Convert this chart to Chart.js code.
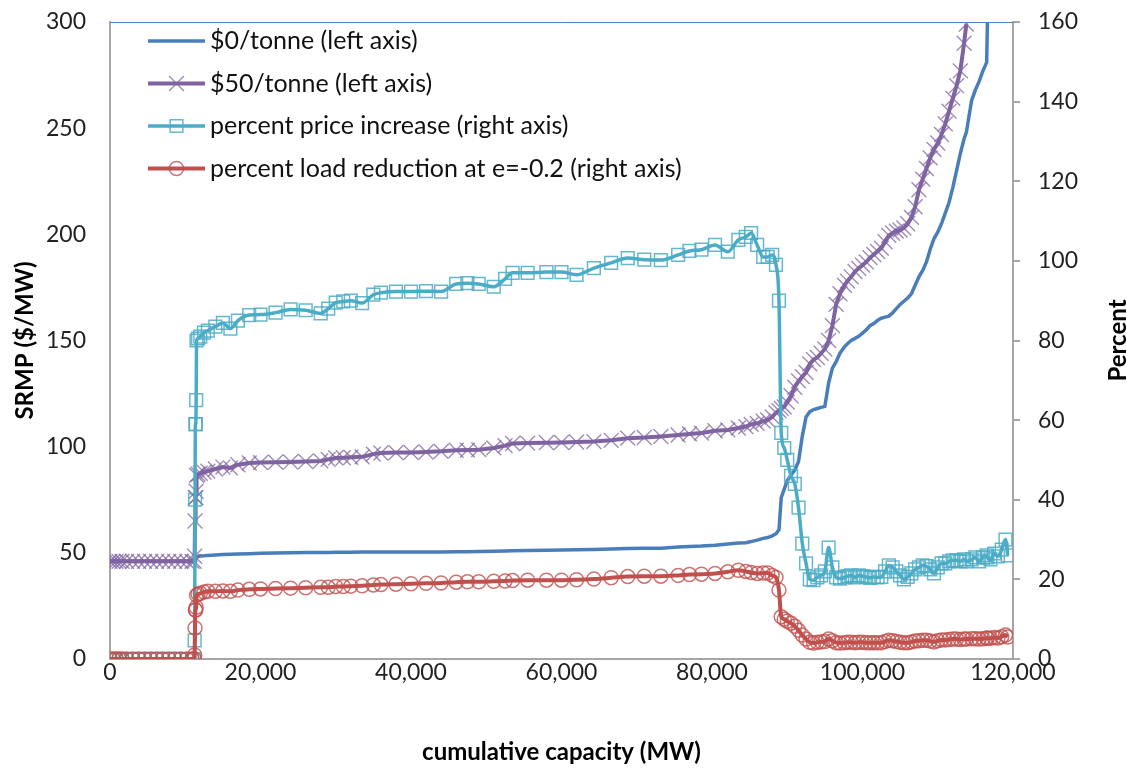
<!DOCTYPE html>
<html>
<head>
<meta charset="utf-8">
<script src="https://cdn.jsdelivr.net/npm/chart.js@4.4.0/dist/chart.umd.min.js"></script>
<style>
  body { margin: 0; background: #fff; }
  #wrap { width: 1127px; height: 768px; position: relative; }
</style>
</head>
<body>
<div id="wrap"><canvas id="srmpChart"></canvas></div>
<script>
// cumulative capacity (MW), shared by all four series
const capacityMW = [
  0, 400, 800, 1200, 1600, 2200, 3000, 3800, 4600, 5400, 6200, 7000, 7800, 8600, 9400, 10200, 10900,
  11200, 11250, 11300, 11350, 11400, 11450, 11500, 11700, 12000, 12500, 13000, 14000, 15000, 16000,
  17000, 18500, 20000, 22000, 24000, 26000, 28000, 29000, 30000, 31000, 32000, 33500, 35000, 36000,
  38000, 40000, 42000, 44000, 46000, 47500, 49000, 51000, 52500, 53500, 55500, 58000, 60000, 62000,
  64300, 66600, 68800, 71000, 73200, 75500, 77000, 78600, 80400, 82100, 83500, 84500, 85200, 86000,
  86800, 87400, 88000, 88500, 88900, 89200, 89600, 90000, 90500, 91000, 91500, 92000, 92500, 93000,
  93500, 94000, 94500, 95000, 95500, 96000, 96500, 97000, 97600, 98000, 98500, 99000, 99500, 100000,
  100500, 101000, 101500, 102000, 102500, 103000, 103500, 104000, 104500, 105000, 105500, 106000,
  106500, 107000, 107500, 108000, 108500, 109000, 109500, 110000, 110500, 111000, 111500, 112000,
  112500, 113000, 113500, 113800, 114500, 115000, 115500, 116000, 116500, 116600, 117000, 117500,
  118000, 118500, 119000, 119300
];

// $0/tonne SRMP ($/MW), left axis
const srmpZero = [
  46, 46, 46, 46, 46, 46, 46, 46, 46, 46, 46, 46, 46, 46, 46, 46, 46,
  46, 46.2, 46.5, 47.8, 47.9, 48, 48.2, 48.3, 48.5, 48.6, 48.8, 49, 49.2, 49.3,
  49.4, 49.6, 49.8, 49.9, 50, 50.1, 50.2, 50.2, 50.3, 50.3, 50.3, 50.4, 50.4, 50.4,
  50.4, 50.4, 50.4, 50.4, 50.5, 50.5, 50.6, 50.8, 50.9, 51, 51.1, 51.2, 51.3, 51.4,
  51.6, 51.8, 52, 52.1, 52.2, 52.7, 53, 53.2, 53.6, 54.2, 54.6, 54.8, 55.3, 56,
  56.8, 57.2, 58, 59, 60.8, 76, 80, 84, 86.5, 89, 93, 105, 114, 116.5,
  117.5, 118, 118.5, 119, 130, 137, 140, 144, 147, 148.5, 150, 151, 152, 153.5,
  155, 157, 158, 159.5, 160.5, 161, 161.5, 163, 165, 167, 168.5, 170,
  172, 176, 180, 183, 187, 193, 198, 201, 205, 210, 215, 222,
  230, 238, 245, 248, 263, 268, 272, 277, 281, 300, null, null,
  null, null, null, null
];

// $50/tonne SRMP ($/MW), left axis
const srmpFifty = [
  46, 46, 46, 46, 46, 46, 46, 46, 46, 46, 46, 46, 46, 46, 46, 46, 46,
  46, 48.4, 65, 76, 76, 79, 86.5, 87, 87.5, 88, 88.5, 89.5, 90.4, 90,
  91.5, 92.3, 92.5, 92.7, 92.8, 93, 93.3, 94, 94.7, 94.8, 95, 95.2, 96.5, 97,
  97.2, 97.3, 97.5, 97.8, 98.3, 98.4, 98.6, 99.4, 100.5, 101.5, 101.7, 101.9, 102, 102.2,
  102.4, 103, 104, 104.3, 104.8, 105.5, 106, 106.4, 107.5, 107.9, 108.8, 109.5, 110.5, 111,
  112, 112.6, 114, 116, 117, 118, 118.7, 121, 124, 128, 131, 133, 135, 139,
  141, 142, 144, 146, 150, 157, 167, 172, 176, 178, 180, 182.5, 184, 185.5,
  187, 189, 190.5, 192, 193.5, 196.5, 199.5, 200.5, 201.5, 202, 203, 205,
  208, 213, 221, 226, 231, 236, 240, 243, 247, 252, 258, 264,
  270, 277, 290, 299, null, null, null, null, null, null, null, null,
  null, null, null, null
];

// percent price increase, right axis
const pctPriceIncrease = [
  0, 0, 0, 0, 0, 0, 0, 0, 0, 0, 0, 0, 0, 0, 0, 0, 0,
  0, 4.7, 40, 59, 59, 65, 80, 80.5, 81, 82, 82.5, 83.5, 84.4, 83,
  85, 86.4, 86.5, 87, 87.8, 87.6, 86.8, 88, 89.5, 89.8, 90, 89.4, 91.5, 92,
  92.3, 92.3, 92.4, 92.3, 94.2, 94.4, 94.2, 93.5, 95.5, 97, 97, 97.2, 97.2, 96.5,
  98.2, 99.5, 100.7, 100.3, 100.2, 101.5, 102.5, 102.8, 104, 102.3, 105.3, 106, 107, 104,
  101, 101, 101.5, 99, 90, 56.8, 53, 50, 46, 44, 38, 29, 24, 20,
  19.8, 20.5, 21, 22, 28, 23, 20.5, 20.2, 20.5, 20.8, 21, 20.5, 21, 20.8,
  20.6, 20.4, 20.6, 20.5, 20.6, 22, 23.5, 23, 22, 21, 20, 20.6,
  21.5, 22.5, 23, 23.5, 23.3, 22.5, 21.5, 23, 24, 24, 24.5, 24.8,
  24.8, 24.5, 25, 24.5, 25, 25.5, 24.5, 25.5, 26, 25.5, 25, 26.5,
  25.8, 27.5, 30, 26
];

// percent load reduction at e=-0.2, right axis
const pctLoadReduction = [
  0, 0, 0, 0, 0, 0, 0, 0, 0, 0, 0, 0, 0, 0, 0, 0, 0,
  0, 1, 7.8, 12.3, 12.3, 13, 16, 16.3, 16.5, 16.8, 17, 17, 17.1, 17,
  17.3, 17.5, 17.6, 17.7, 17.8, 17.9, 18, 18, 18.2, 18.2, 18.3, 18.4, 18.6, 18.7,
  18.8, 18.9, 19, 19.1, 19.3, 19.4, 19.4, 19.5, 19.6, 19.7, 19.8, 19.8, 19.8, 19.9,
  20.1, 20.4, 20.7, 20.8, 20.8, 21, 21.2, 21.3, 21.5, 21.9, 22.3, 22, 21.7, 21.5,
  21.6, 21.6, 21, 20.5, 17.3, 10.6, 10, 9.5, 9, 8.2, 7.2, 6, 5, 4.2,
  4, 4.2, 4.3, 4.4, 5, 4.6, 4.1, 4, 4.1, 4.2, 4.2, 4.1, 4.2, 4.2,
  4.1, 4.1, 4.1, 4.1, 4.1, 4.4, 4.7, 4.6, 4.4, 4.2, 4.1, 4.1,
  4.3, 4.5, 4.6, 4.7, 4.7, 4.5, 4.3, 4.6, 4.8, 4.8, 4.9, 5,
  5, 4.9, 5, 5, 5.1, 5.1, 5, 5.1, 5.3, 5.2, 5.2, 5.4,
  5.3, 5.6, 6, 5.5
];

const seriesNames = [
  '$0/tonne (left axis)',
  '$50/tonne (left axis)',
  'percent price increase (right axis)',
  'percent load reduction at e=-0.2 (right axis)'
];
const xTitle = 'cumulative capacity (MW)';
const leftTitle = 'SRMP ($/MW)';
const rightTitle = 'Percent';

function points(values) {
  return capacityMW.map((x, i) => ({ x: x, y: values[i] }));
}

// legend with line + marker, and axis titles (Excel style)
const decor = {
  id: 'decor',
  afterDraw(chart) {
    const ctx = chart.ctx;
    const a = chart.chartArea;
    ctx.save();
    ctx.strokeStyle = '#4F81BD';
    ctx.lineWidth = 1;
    ctx.beginPath();
    ctx.moveTo(a.left, a.top + 0.5);
    ctx.lineTo(a.right, a.top + 0.5);
    ctx.stroke();

    ctx.fillStyle = '#000';
    ctx.font = 'bold 24px Lato';
    ctx.textAlign = 'center';
    ctx.textBaseline = 'middle';
    ctx.fillText(xTitle, (a.left + a.right) / 2, 752);
    ctx.save();
    ctx.translate(25, (a.top + a.bottom) / 2);
    ctx.rotate(-Math.PI / 2);
    ctx.fillText(leftTitle, 0, 0);
    ctx.restore();
    ctx.save();
    ctx.translate(1118, (a.top + a.bottom) / 2);
    ctx.rotate(-Math.PI / 2);
    ctx.fillText(rightTitle, 0, 0);
    ctx.restore();

    ctx.font = '25px Lato';
    ctx.textAlign = 'left';
    chart.data.datasets.forEach((ds, i) => {
      const y = 41 + i * 42.5;
      ctx.strokeStyle = ds.borderColor;
      ctx.lineWidth = ds.borderWidth;
      ctx.beginPath();
      ctx.moveTo(148, y);
      ctx.lineTo(205, y);
      ctx.stroke();
      if (ds.pointRadius > 0) {
        ctx.strokeStyle = ds.pointBorderColor;
        ctx.fillStyle = 'rgba(255,255,255,0)';
        ctx.lineWidth = ds.pointBorderWidth;
        Chart.helpers.drawPoint(ctx, {
          pointStyle: ds.pointStyle, radius: ds.pointRadius, borderWidth: ds.pointBorderWidth
        }, 176.5, y);
      }
      ctx.fillStyle = '#111';
      ctx.fillText(ds.label, 210, y);
    });
    ctx.restore();
  }
};

const tickFont = { family: 'Lato', size: 23 };
const axisGrey = '#a6a6a6';

// fixed plot box: drop the extra label padding Chart.js adds at the axis ends
function fixBox(size, horizontal) {
  return function (s) {
    if (horizontal) { s.height = size; } else { s.width = size; }
    s.paddingTop = 0; s.paddingBottom = 0; s.paddingLeft = 0; s.paddingRight = 0;
  };
}

function build() {
  new Chart(document.getElementById('srmpChart'), {
    type: 'line',
    data: {
      datasets: [
        {
          label: seriesNames[0], data: points(srmpZero), yAxisID: 'y', order: 4,
          borderColor: '#4A7EBB', borderWidth: 3.5, pointRadius: 0, tension: 0
        },
        {
          label: seriesNames[1], data: points(srmpFifty), yAxisID: 'y', order: 3,
          borderColor: '#7F63A1', borderWidth: 4, tension: 0,
          pointStyle: 'crossRot', pointRadius: 10.5, pointBorderWidth: 1.4,
          pointBorderColor: 'rgba(128,100,162,0.75)', pointBackgroundColor: 'rgba(0,0,0,0)'
        },
        {
          label: seriesNames[2], data: points(pctPriceIncrease), yAxisID: 'y1', order: 2,
          borderColor: '#4BACC6', borderWidth: 3.5, cubicInterpolationMode: 'monotone',
          pointStyle: 'rect', pointRadius: 9, pointBorderWidth: 1.5,
          pointBorderColor: 'rgba(75,172,198,0.85)', pointBackgroundColor: 'rgba(0,0,0,0)'
        },
        {
          label: seriesNames[3], data: points(pctLoadReduction), yAxisID: 'y1', order: 1,
          borderColor: '#C0504D', borderWidth: 4, cubicInterpolationMode: 'monotone',
          pointStyle: 'circle', pointRadius: 7, pointBorderWidth: 1.5,
          pointBorderColor: 'rgba(192,80,77,0.8)', pointBackgroundColor: 'rgba(0,0,0,0)'
        }
      ]
    },
    options: {
      responsive: true,
      maintainAspectRatio: false,
      animation: false,
      layout: { padding: { top: 22, left: 0, right: 0, bottom: 0 } },
      plugins: { legend: { display: false }, tooltip: { enabled: false } },
      scales: {
        x: {
          type: 'linear', min: 0, max: 120000,
          ticks: { stepSize: 20000, font: tickFont, color: '#222', padding: 0, maxRotation: 0, autoSkip: false },
          grid: { display: false, drawTicks: false },
          border: { display: true, color: axisGrey, width: 2 },
          afterFit: fixBox(109, true)
        },
        y: {
          position: 'left', min: 0, max: 300,
          ticks: { stepSize: 50, font: tickFont, color: '#222', padding: 24 },
          grid: { display: false, drawTicks: false },
          border: { display: true, color: axisGrey, width: 2 },
          afterFit: fixBox(110, false)
        },
        y1: {
          position: 'right', min: 0, max: 160,
          ticks: { stepSize: 20, font: tickFont, color: '#222', padding: 18 },
          grid: { display: true, drawOnChartArea: false, drawTicks: true, tickLength: 7, color: axisGrey, lineWidth: 2 },
          border: { display: true, color: axisGrey, width: 2 },
          afterFit: fixBox(114, false)
        }
      }
    },
    plugins: [decor]
  });
}

document.fonts.load('23px Lato').then(() => document.fonts.load('bold 24px Lato')).then(build, build);
</script>
</body>
</html>
